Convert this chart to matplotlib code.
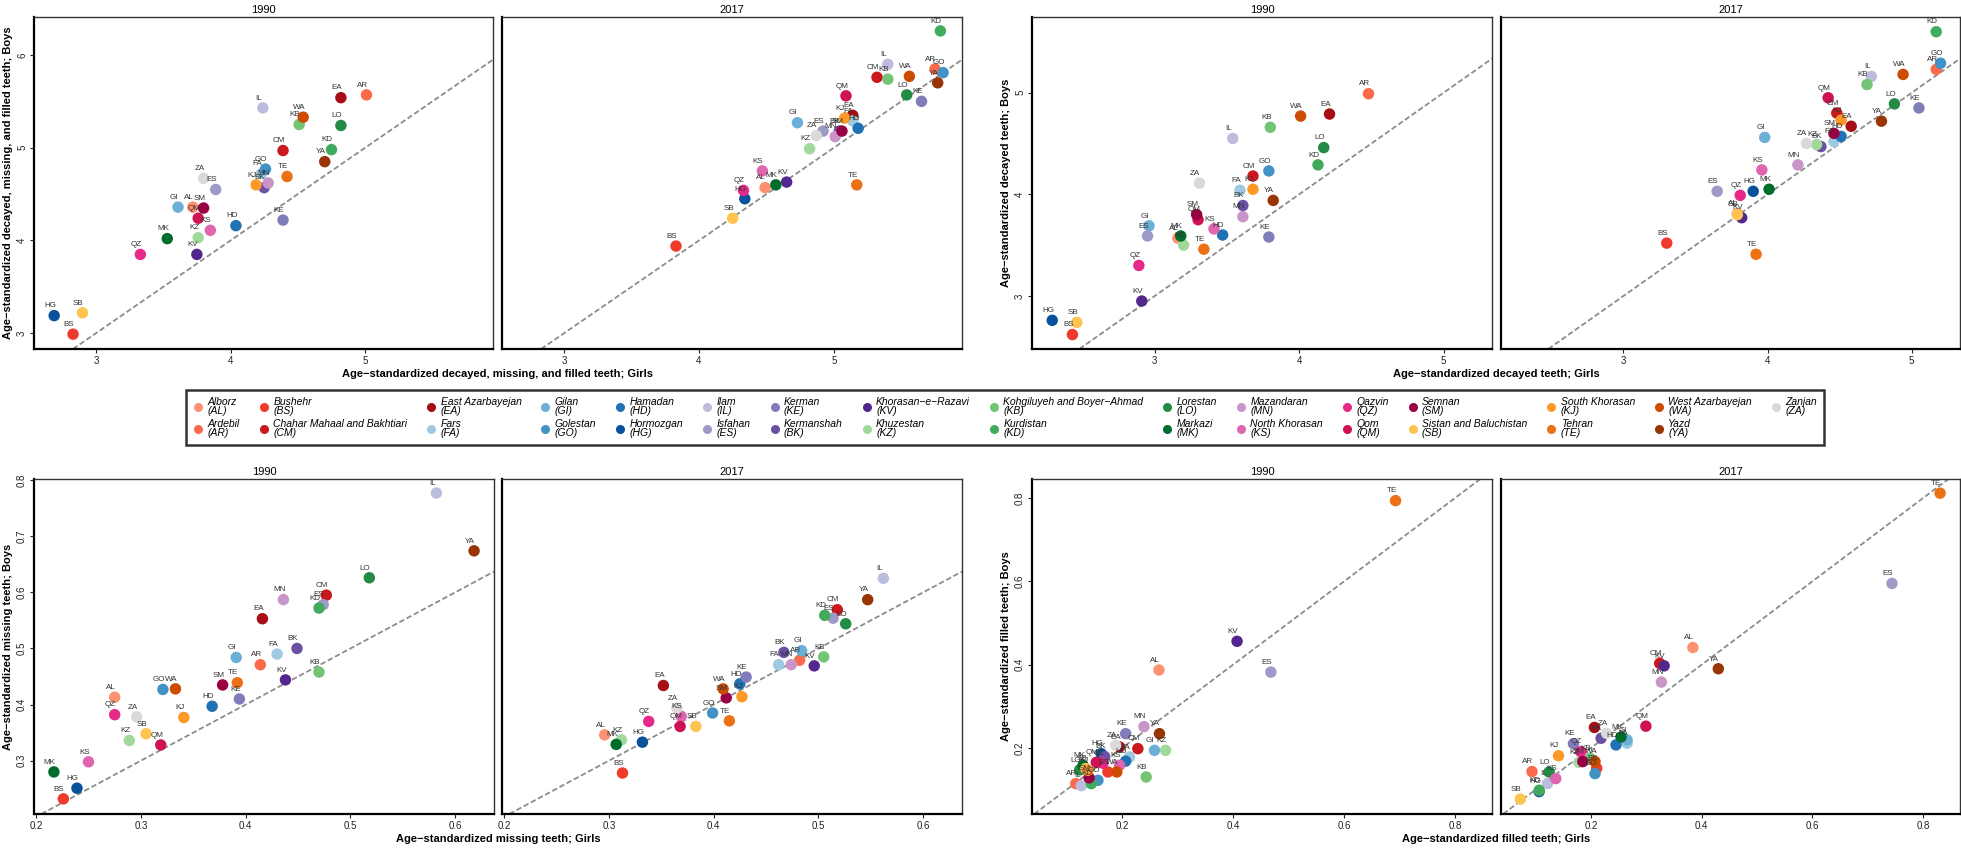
import matplotlib.pyplot as plt
from matplotlib.lines import Line2D

plt.rcParams['font.family'] = ['Liberation Sans', 'DejaVu Sans']

# provinces, in legend order
codes = ['AL', 'AR', 'BS', 'CM', 'EA', 'FA', 'GI', 'GO', 'HD', 'HG', 'IL', 'ES', 'KE', 'BK', 'KV', 'KZ',
         'KB', 'KD', 'LO', 'MK', 'MN', 'KS', 'QZ', 'QM', 'SM', 'SB', 'KJ', 'TE', 'WA', 'YA', 'ZA']
names = ['Alborz', 'Ardebil', 'Bushehr', 'Chahar Mahaal and Bakhtiari', 'East Azarbayejan', 'Fars',
         'Gilan', 'Golestan', 'Hamadan', 'Hormozgan', 'Ilam', 'Isfahan', 'Kerman', 'Kermanshah',
         'Khorasan\u2212e\u2212Razavi', 'Khuzestan', 'Kohgiluyeh and Boyer\u2212Ahmad', 'Kurdistan',
         'Lorestan', 'Markazi', 'Mazandaran', 'North Khorasan', 'Qazvin', 'Qom', 'Semnan',
         'Sistan and Baluchistan', 'South Khorasan', 'Tehran', 'West Azarbayejan', 'Yazd', 'Zanjan']
colors = ['#fc9272', '#fb6a4a', '#ef3b2c', '#cb181d', '#a50f15', '#9ecae1', '#6baed6', '#4292c6',
          '#2171b5', '#08519c', '#bcbddc', '#9e9ac8', '#807dba', '#6a51a3', '#54278f', '#a1d99b',
          '#74c476', '#41ab5d', '#238b45', '#006d2c', '#c994c7', '#df65b0', '#e7298a', '#ce1256',
          '#980043', '#fec44f', '#fe9929', '#ec7014', '#cc4c02', '#993404', '#d9d9d9']

# decayed, missing and filled teeth (DMFT)
dmft_1990_girls = [3.72, 5.01, 2.83, 4.39, 4.82, 4.23, 3.61, 4.26, 4.04, 2.69, 4.24, 3.89, 4.39, 4.25, 3.75, 3.76,
                   4.51, 4.75, 4.82, 3.53, 4.28, 3.85, 3.33, 3.76, 3.80, 2.90, 4.19, 4.42, 4.54, 4.70, 3.80]
dmft_1990_boys = [4.36, 5.57, 2.99, 4.97, 5.54, 4.72, 4.36, 4.77, 4.16, 3.19, 5.43, 4.55, 4.22, 4.57, 3.85, 4.03,
                  5.25, 4.98, 5.24, 4.02, 4.62, 4.11, 3.85, 4.24, 4.35, 3.22, 4.60, 4.69, 5.33, 4.85, 4.67]
dmft_2017_girls = [4.49, 5.75, 3.83, 5.32, 5.14, 5.14, 4.73, 5.81, 5.18, 4.34, 5.40, 4.92, 5.65, 5.04, 4.65, 4.82,
                   5.40, 5.79, 5.54, 4.57, 5.01, 4.47, 4.33, 5.09, 5.06, 4.25, 5.08, 5.17, 5.56, 5.77, 4.87]
dmft_2017_boys = [4.57, 5.85, 3.94, 5.76, 5.35, 5.29, 5.27, 5.81, 5.21, 4.45, 5.90, 5.18, 5.50, 5.18, 4.63, 4.99,
                  5.74, 6.26, 5.57, 4.60, 5.12, 4.75, 4.54, 5.56, 5.18, 4.24, 5.32, 4.60, 5.77, 5.70, 5.13]

# decayed teeth
dt_1990_girls = [3.16, 4.48, 2.43, 3.68, 4.21, 3.59, 2.96, 3.79, 3.47, 2.29, 3.54, 2.95, 3.79, 3.61, 2.91, 3.20,
                 3.80, 4.13, 4.17, 3.18, 3.61, 3.41, 2.89, 3.30, 3.29, 2.46, 3.68, 3.34, 4.01, 3.82, 3.31]
dt_1990_boys = [3.57, 4.99, 2.62, 4.18, 4.79, 4.04, 3.69, 4.23, 3.60, 2.76, 4.55, 3.59, 3.58, 3.89, 2.95, 3.50,
                4.66, 4.29, 4.46, 3.59, 3.78, 3.66, 3.30, 3.75, 3.80, 2.74, 4.05, 3.46, 4.77, 3.94, 4.11]
dt_2017_girls = [3.79, 5.17, 3.30, 4.48, 4.58, 4.46, 3.98, 5.20, 4.51, 3.90, 4.72, 3.65, 5.05, 4.37, 3.82, 4.34,
                 4.69, 5.17, 4.88, 4.01, 4.21, 3.96, 3.81, 4.42, 4.46, 3.79, 4.51, 3.92, 4.94, 4.79, 4.27]
dt_2017_boys = [3.81, 5.23, 3.52, 4.80, 4.67, 4.52, 4.56, 5.29, 4.57, 4.03, 5.16, 4.03, 4.85, 4.47, 3.77, 4.49,
                5.08, 5.60, 4.89, 4.05, 4.29, 4.24, 3.99, 4.95, 4.60, 3.80, 4.73, 3.41, 5.18, 4.72, 4.50]

# missing teeth
mt_1990_girls = [0.275, 0.414, 0.226, 0.477, 0.416, 0.430, 0.391, 0.321, 0.368, 0.239, 0.582, 0.474, 0.394, 0.449,
                 0.438, 0.289, 0.470, 0.470, 0.518, 0.217, 0.436, 0.250, 0.275, 0.319, 0.378, 0.305, 0.341, 0.392,
                 0.333, 0.618, 0.296]
mt_1990_boys = [0.413, 0.471, 0.232, 0.595, 0.553, 0.490, 0.484, 0.427, 0.397, 0.251, 0.777, 0.578, 0.410, 0.500,
                0.444, 0.336, 0.458, 0.572, 0.626, 0.280, 0.587, 0.298, 0.382, 0.328, 0.435, 0.348, 0.377, 0.439,
                0.428, 0.674, 0.378]
mt_2017_girls = [0.296, 0.482, 0.313, 0.518, 0.352, 0.462, 0.484, 0.399, 0.425, 0.332, 0.562, 0.514, 0.431, 0.467,
                 0.496, 0.312, 0.505, 0.506, 0.526, 0.307, 0.474, 0.369, 0.338, 0.368, 0.412, 0.383, 0.427, 0.415,
                 0.409, 0.547, 0.365]
mt_2017_boys = [0.346, 0.479, 0.278, 0.569, 0.434, 0.471, 0.496, 0.385, 0.437, 0.333, 0.625, 0.554, 0.449, 0.493,
                0.469, 0.337, 0.485, 0.559, 0.544, 0.329, 0.471, 0.379, 0.370, 0.361, 0.412, 0.361, 0.414, 0.371,
                0.428, 0.587, 0.394]

# filled teeth
ft_1990_girls = [0.266, 0.116, 0.174, 0.228, 0.195, 0.213, 0.258, 0.156, 0.206, 0.162, 0.126, 0.468, 0.206, 0.168,
                 0.407, 0.278, 0.243, 0.144, 0.123, 0.129, 0.239, 0.195, 0.165, 0.153, 0.140, 0.134, 0.138, 0.693,
                 0.190, 0.267, 0.188]
ft_1990_boys = [0.387, 0.114, 0.142, 0.198, 0.202, 0.178, 0.194, 0.122, 0.168, 0.186, 0.109, 0.382, 0.234, 0.179,
                0.456, 0.194, 0.130, 0.114, 0.147, 0.158, 0.251, 0.158, 0.163, 0.165, 0.128, 0.150, 0.146, 0.794,
                0.142, 0.234, 0.206]
ft_2017_girls = [0.384, 0.093, 0.210, 0.324, 0.206, 0.265, 0.265, 0.207, 0.245, 0.106, 0.121, 0.744, 0.168, 0.218,
                 0.332, 0.178, 0.198, 0.106, 0.124, 0.254, 0.327, 0.136, 0.181, 0.299, 0.185, 0.072, 0.141, 0.831,
                 0.207, 0.430, 0.228]
ft_2017_boys = [0.441, 0.143, 0.151, 0.403, 0.249, 0.211, 0.219, 0.138, 0.207, 0.095, 0.114, 0.595, 0.210, 0.223,
                0.397, 0.165, 0.175, 0.098, 0.142, 0.226, 0.358, 0.126, 0.191, 0.252, 0.167, 0.077, 0.181, 0.812,
                0.167, 0.390, 0.235]

years = ['1990', '2017']

W, H = 1961, 848
fig = plt.figure(figsize=(W / 100, H / 100), dpi=100)


def add_ax(left, top, right, bottom):
    return fig.add_axes([left / W, 1 - bottom / H, (right - left) / W, (bottom - top) / H])


def draw_facet(ax, xs, ys, year, xlim, ylim, ticks_x, ticks_y, fmt, show_y):
    ax.axline((0, 0), slope=1, color='#8c8c8c', lw=1.3, ls=(0, (3, 1.5)), zorder=1)
    ax.scatter(xs, ys, s=68, c=colors, linewidths=0, zorder=2)
    for x, y, code in zip(xs, ys, codes):
        ax.annotate(code, (x, y), xytext=(-3, 4.5), textcoords='offset points',
                    ha='center', va='bottom', fontsize=5.8, color='#333333', zorder=3)
    ax.set_xlim(xlim)
    ax.set_ylim(ylim)
    ax.set_xticks(ticks_x)
    ax.set_xticklabels([fmt.format(t) for t in ticks_x])
    ax.tick_params(labelsize=7, length=3, width=0.8, pad=2, colors='#222222')
    if show_y:
        ax.set_yticks(ticks_y)
        ax.set_yticklabels([fmt.format(t) for t in ticks_y], rotation=90, va='center')
    else:
        ax.set_yticks([])
    for side in ['top', 'right']:
        ax.spines[side].set_color('#333333')
        ax.spines[side].set_linewidth(1.0)
    for side in ['left', 'bottom']:
        ax.spines[side].set_color('black')
        ax.spines[side].set_linewidth(1.6)
    ax.set_title(year, fontsize=8, pad=3)


panels = [
    dict(data=[(dmft_1990_girls, dmft_1990_boys), (dmft_2017_girls, dmft_2017_boys)],
         xlim=(2.54, 5.95), ylim=(2.83, 6.41), tx=[3, 4, 5], ty=[3, 4, 5, 6], fmt='{:g}',
         xlabel='Age\u2212standardized decayed, missing, and filled teeth; Girls',
         ylabel='Age\u2212standardized decayed, missing, and filled teeth; Boys',
         box=(34, 493, 502, 962, 17, 349)),
    dict(data=[(dt_1990_girls, dt_1990_boys), (dt_2017_girls, dt_2017_boys)],
         xlim=(2.15, 5.335), ylim=(2.478, 5.745), tx=[3, 4, 5], ty=[3, 4, 5], fmt='{:g}',
         xlabel='Age\u2212standardized decayed teeth; Girls',
         ylabel='Age\u2212standardized decayed teeth; Boys',
         box=(1032, 1492, 1501, 1960, 17, 349)),
    dict(data=[(mt_1990_girls, mt_1990_boys), (mt_2017_girls, mt_2017_boys)],
         xlim=(0.198, 0.637), ylim=(0.205, 0.802), tx=[0.2, 0.3, 0.4, 0.5, 0.6],
         ty=[0.3, 0.4, 0.5, 0.6, 0.7, 0.8], fmt='{:.1f}',
         xlabel='Age\u2212standardized missing teeth; Girls',
         ylabel='Age\u2212standardized missing teeth; Boys',
         box=(34, 494, 502, 962, 479, 814)),
    dict(data=[(ft_1990_girls, ft_1990_boys), (ft_2017_girls, ft_2017_boys)],
         xlim=(0.037, 0.867), ylim=(0.041, 0.846), tx=[0.2, 0.4, 0.6, 0.8],
         ty=[0.2, 0.4, 0.6, 0.8], fmt='{:.1f}',
         xlabel='Age\u2212standardized filled teeth; Girls',
         ylabel='Age\u2212standardized filled teeth; Boys',
         box=(1032, 1492, 1501, 1960, 479, 814)),
]

for p in panels:
    l1, r1, l2, r2, top, bottom = p['box']
    for i, (left, right) in enumerate([(l1, r1), (l2, r2)]):
        ax = add_ax(left, top, right, bottom)
        xs, ys = p['data'][i]
        draw_facet(ax, xs, ys, years[i], p['xlim'], p['ylim'], p['tx'], p['ty'], p['fmt'], i == 0)
    fig.text((l1 + r2) / 2 / W, 1 - (bottom + 25) / H, p['xlabel'], ha='center', va='center',
             fontsize=8, fontweight='bold')
    fig.text((l1 - 26) / W, 1 - (top + bottom) / 2 / H, p['ylabel'], ha='center', va='center',
             rotation=90, fontsize=8, fontweight='bold')

handles = [Line2D([], [], marker='o', ls='', color=c, markersize=6.5, markeredgewidth=0) for c in colors]
labels = [f'{n}\n({c})' for n, c in zip(names, codes)]
leg = fig.legend(handles, labels, loc='center', bbox_to_anchor=(1005 / W, 1 - 417.5 / H), ncol=16,
                 prop=dict(style='italic', size=7.5), frameon=True, fancybox=False, edgecolor='black',
                 handlelength=1.0, handletextpad=0.4, columnspacing=1.8, borderpad=0.7, labelspacing=0.2)
leg.get_frame().set_linewidth(1.8)
for t in leg.get_texts():
    t.set_linespacing(0.95)

fig.savefig('out.png', dpi=100)
